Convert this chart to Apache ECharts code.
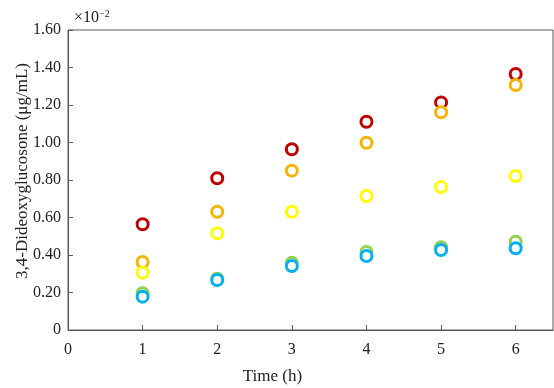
<!DOCTYPE html>
<html>
<head>
<meta charset="utf-8">
<script src="https://cdn.jsdelivr.net/npm/echarts@6/dist/echarts.min.js"></script>
<style>
  html, body { margin: 0; padding: 0; background: #fff; }
  #chart { width: 554px; height: 388px; }
</style>
</head>
<body>
<div id="chart"></div>
<script>
// time points (h)
const times = [1, 2, 3, 4, 5, 6];
// values (x10^-2 ug/mL)
const redVals = [0.564, 0.809, 0.964, 1.111, 1.214, 1.365];
const orangeVals = [0.363, 0.631, 0.850, 0.999, 1.161, 1.307];
const yellowVals = [0.306, 0.516, 0.631, 0.715, 0.763, 0.821];
const greenVals = [0.196, 0.274, 0.359, 0.416, 0.441, 0.471];
const blueVals = [0.178, 0.267, 0.341, 0.395, 0.427, 0.436];

const seriesList = [
  { vals: redVals, color: "#c00000" },
  { vals: orangeVals, color: "#f5b400" },
  { vals: yellowVals, color: "#ffff00" },
  { vals: greenVals, color: "#92d050" },
  { vals: blueVals, color: "#00b0f0" },
];

const font = "Liberation Serif";
const axisColor = "#595959";

const chart = echarts.init(document.getElementById("chart"));

chart.setOption({
  animation: false,
  grid: {
    left: 68, top: 30, right: 1, bottom: 58,
    outerBoundsMode: "none",
    containLabel: false,
    show: true, borderColor: axisColor, borderWidth: 1,
  },
  xAxis: {
    type: "value",
    min: 0, max: 6.5, interval: 1,
    splitLine: { show: false },
    axisLine: { lineStyle: { color: axisColor } },
    axisTick: { inside: true, length: 5, lineStyle: { color: axisColor } },
    axisLabel: {
      color: "#222", fontFamily: font, fontSize: 16, margin: 12,
      showMaxLabel: false,
      formatter: (v) => (Number.isInteger(v) ? String(v) : ""),
    },
    name: "Time (h)",
    nameLocation: "middle",
    nameGap: 38,
    nameMoveOverlap: false,
    // title sits left of the plot centre in the original
    nameTextStyle: { color: "#222", fontFamily: font, fontSize: 17, padding: [0, 76, 0, 0] },
  },
  yAxis: {
    type: "value",
    min: 0, max: 1.6, interval: 0.2,
    splitLine: { show: false },
    axisLine: { show: true, lineStyle: { color: axisColor } },
    axisTick: { show: true, inside: true, length: 5, lineStyle: { color: axisColor } },
    axisLabel: {
      color: "#222", fontFamily: font, fontSize: 16, margin: 7,
      formatter: (v) => (v === 0 ? "0" : v.toFixed(2)),
    },
    name: "3,4-Dideoxyglucosone (μg/mL)",
    nameLocation: "middle",
    nameGap: 37,
    nameMoveOverlap: false,
    nameTextStyle: { color: "#222", fontFamily: font, fontSize: 17, padding: [0, 0, 0, 18] },
  },
  graphic: [{
    type: "text",
    left: 74, top: 9,
    style: {
      text: "{a|×10}{b|−2}",
      rich: {
        a: { fontFamily: font, fontSize: 16, fill: "#222" },
        b: { fontFamily: font, fontSize: 10, fill: "#222", verticalAlign: "top", padding: [0, 0, 8, 0] },
      },
    },
  }],
  series: seriesList.map((s) => ({
    type: "scatter",
    symbol: "circle",
    symbolSize: 11,
    itemStyle: { color: "#fff", borderColor: s.color, borderWidth: 3, opacity: 1 },
    data: times.map((t, i) => [t, s.vals[i]]),
  })),
});
</script>
</body>
</html>
